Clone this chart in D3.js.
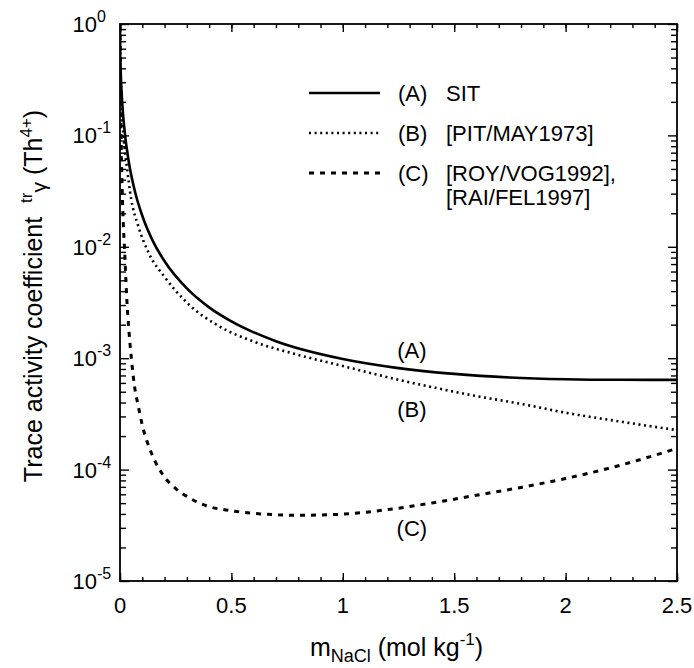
<!DOCTYPE html>
<html><head><meta charset="utf-8">
<script src="https://cdn.jsdelivr.net/npm/d3@7/dist/d3.min.js"></script>
<style>
body{margin:0;background:#fff}
text{font-family:Arial,"Liberation Sans",Helvetica,sans-serif;fill:#000;white-space:pre}
</style>
</head><body>
<svg id="chart" width="694" height="668"></svg>
<script>
// ---- data ----
const mA = [0, 0.001, 0.003, 0.01, 0.02, 0.04, 0.07, 0.1, 0.15, 0.2, 0.3, 0.4, 0.5, 0.7, 1.0, 1.25, 1.5, 1.75, 2.0, 2.25, 2.5];
const gammaA = [1, 0.567, 0.388, 0.197, 0.113, 0.0571, 0.0298, 0.0190, 0.0110, 0.00742, 0.00423, 0.00286, 0.00214, 0.00142, 0.000983, 0.000815, 0.000723, 0.000672, 0.000648, 0.000640, 0.000639];

const mB = [0, 0.001, 0.003, 0.006, 0.01, 0.02, 0.03, 0.05, 0.08, 0.13, 0.2, 0.3, 0.45, 0.6, 0.8, 1.0, 1.2, 1.4, 1.6, 1.8, 2.0, 2.25, 2.5];
const gammaB = [1, 0.537, 0.316, 0.200, 0.141, 0.0794, 0.0537, 0.0269, 0.0158, 0.00871, 0.00537, 0.00316, 0.00191, 0.00141, 0.00107, 0.000851, 0.000676, 0.000550, 0.000457, 0.000389, 0.000324, 0.000269, 0.000226];

const mC = [0, 0.001, 0.003, 0.006, 0.01, 0.015, 0.02, 0.03, 0.04, 0.052, 0.065, 0.082, 0.1, 0.135, 0.187, 0.25, 0.3, 0.38, 0.5, 0.65, 0.8, 1.0, 1.2, 1.4, 1.6, 1.8, 2.0, 2.25, 2.5];
const gammaC = [1, 0.447, 0.178, 0.0692, 0.0316, 0.0158, 0.0100, 0.00355, 0.00178, 0.000955, 0.000562, 0.000372, 0.000251, 0.000151, 0.0000933, 0.0000676, 0.0000575, 0.0000479, 0.0000427, 0.0000398, 0.0000389, 0.0000398, 0.0000437, 0.0000501, 0.0000589, 0.0000692, 0.0000832, 0.000110, 0.000155];

const xTicks = [0, 0.5, 1, 1.5, 2, 2.5];
const xTickLabels = ["0", "0.5", "1", "1.5", "2", "2.5"];
const yTickExponents = [0, -1, -2, -3, -4, -5];

const legendKeys = ["(A)", "(B)", "(C)"];
const legendTexts = [["SIT"], ["[PIT/MAY1973]"], ["[ROY/VOG1992],", "[RAI/FEL1997]"]];
const curveLabels = ["(A)", "(B)", "(C)"];
const curveLabelPos = [[1.31, 0.00100], [1.31, 0.000296], [1.31, 0.0000254]];

// ---- layout ----
const svg = d3.select("#chart");
const L = 120, R = 677, T = 24, B = 581;
const x = d3.scaleLinear().domain([0, 2.5]).range([L, R]);
const y = d3.scaleLog().domain([1e-5, 1]).range([B, T]);

const styles = [
  {w: 2.6, dash: null},
  {w: 2.6, dash: "2,3.6"},
  {w: 3, dash: "5,6"}
];

svg.append("defs").append("clipPath").attr("id", "clip")
  .append("rect").attr("x", L).attr("y", T).attr("width", R - L).attr("height", B - T);

const series = [
  mA.map((m, i) => [m, gammaA[i]]),
  mB.map((m, i) => [m, gammaB[i]]),
  mC.map((m, i) => [m, gammaC[i]])
];
const line = d3.line().x(d => x(d[0])).y(d => y(d[1])).curve(d3.curveMonotoneX);
const gC = svg.append("g").attr("clip-path", "url(#clip)");
series.forEach((s, i) => {
  gC.append("path").datum(s).attr("d", line)
    .attr("fill", "none").attr("stroke", "#000")
    .attr("stroke-width", styles[i].w)
    .attr("stroke-dasharray", styles[i].dash);
});

const xMinor = d3.range(0, 2.5001, 0.1).map(v => +v.toFixed(2));
const yMinor = [];
for (let e = -5; e < 0; e++) for (let k = 2; k <= 9; k++) yMinor.push(k * Math.pow(10, e));
const yMajor = yTickExponents.map(e => Math.pow(10, e));

function ax(gen, sel) {
  sel.call(gen);
  sel.select(".domain").remove();
  sel.selectAll(".tick line").attr("stroke", "#000").attr("stroke-width", 1.4);
  sel.selectAll(".tick text").remove();
}
ax(d3.axisBottom(x).tickValues(xMinor).tickSize(-4).tickFormat(""), svg.append("g").attr("transform", `translate(0,${B})`));
ax(d3.axisBottom(x).tickValues(xTicks).tickSize(-8).tickFormat(""), svg.append("g").attr("transform", `translate(0,${B})`));
ax(d3.axisTop(x).tickValues(xMinor).tickSize(-4).tickFormat(""), svg.append("g").attr("transform", `translate(0,${T})`));
ax(d3.axisTop(x).tickValues(xTicks).tickSize(-8).tickFormat(""), svg.append("g").attr("transform", `translate(0,${T})`));
ax(d3.axisLeft(y).tickValues(yMinor).tickSize(-6).tickFormat(""), svg.append("g").attr("transform", `translate(${L},0)`));
ax(d3.axisLeft(y).tickValues(yMajor).tickSize(-9).tickFormat(""), svg.append("g").attr("transform", `translate(${L},0)`));
ax(d3.axisRight(y).tickValues(yMinor).tickSize(-6).tickFormat(""), svg.append("g").attr("transform", `translate(${R},0)`));
ax(d3.axisRight(y).tickValues(yMajor).tickSize(-9).tickFormat(""), svg.append("g").attr("transform", `translate(${R},0)`));

svg.append("rect").attr("x", L).attr("y", T).attr("width", R - L).attr("height", B - T)
  .attr("fill", "none").attr("stroke", "#000").attr("stroke-width", 1.8);

// x tick labels
svg.append("g").selectAll("text").data(xTicks).join("text")
  .attr("x", d => x(d)).attr("y", B + 32)
  .attr("text-anchor", "middle").attr("font-size", 22)
  .text((d, i) => xTickLabels[i]);

// y tick labels 10^n
yTickExponents.forEach(e => {
  svg.append("text").attr("x", 97).attr("y", y(Math.pow(10, e)) + 8)
    .attr("text-anchor", "end").attr("font-size", 22).text("10");
  svg.append("text").attr("x", 97).attr("y", y(Math.pow(10, e)) - 2)
    .attr("font-size", 16).text(String(e));
});

// x axis title
const xt = svg.append("text").attr("x", (L + R) / 2 - 2).attr("y", 656)
  .attr("text-anchor", "middle").attr("font-size", 25);
xt.append("tspan").text("m");
xt.append("tspan").attr("font-size", 18).attr("dy", 6).text("NaCl");
xt.append("tspan").attr("dy", -6).text(" (mol kg");
xt.append("tspan").attr("font-size", 17).attr("dy", -11).text("-1");
xt.append("tspan").attr("dy", 11).text(")");

// y axis title
const yt = svg.append("text").attr("transform", `translate(42,296) rotate(-90)`)
  .attr("text-anchor", "middle").attr("font-size", 25);
yt.append("tspan").text("Trace activity coefficient  ");
yt.append("tspan").attr("font-size", 17).attr("dy", -10).text("tr");
yt.append("tspan").attr("font-size", 21).attr("dy", 14).text("γ");
yt.append("tspan").attr("dy", -4).text(" (Th");
yt.append("tspan").attr("font-size", 17).attr("dy", -10).text("4+");
yt.append("tspan").attr("dy", 10).text(")");

// legend
const legY = [93, 133, 173];
legendKeys.forEach((k, i) => {
  svg.append("line").attr("x1", 309).attr("x2", 380).attr("y1", legY[i]).attr("y2", legY[i])
    .attr("stroke", "#000").attr("stroke-width", styles[i].w)
    .attr("stroke-dasharray", styles[i].dash);
  svg.append("text").attr("x", 398).attr("y", legY[i] + 8).attr("font-size", 22).text(k);
  legendTexts[i].forEach((t, j) => {
    svg.append("text").attr("x", 446).attr("y", legY[i] + 8 + j * 24).attr("font-size", 22).text(t);
  });
});

// curve labels
curveLabels.forEach((c, i) => {
  svg.append("text").attr("x", x(curveLabelPos[i][0])).attr("y", y(curveLabelPos[i][1]))
    .attr("text-anchor", "middle").attr("font-size", 22).text(c);
});
</script>
</body></html>
